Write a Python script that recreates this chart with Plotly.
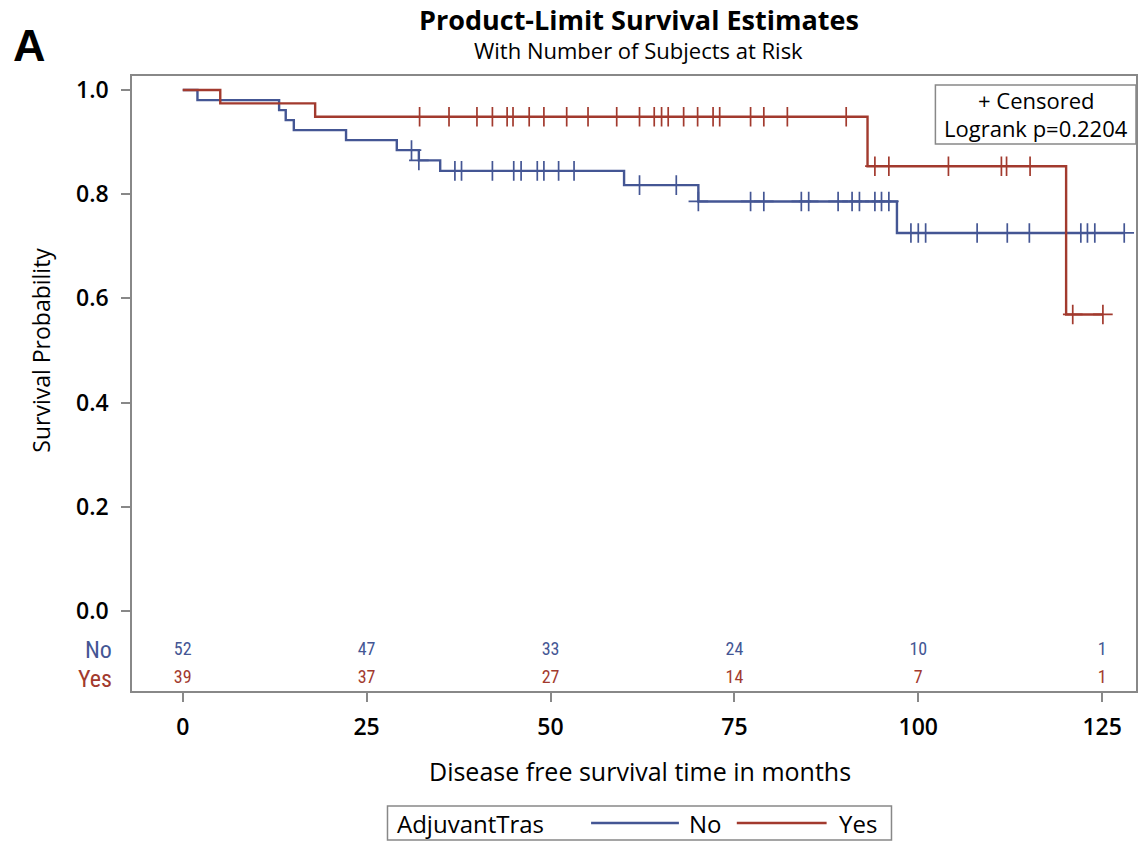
import plotly.graph_objects as go

# ---------------- data ----------------
groups = ["No", "Yes"]
colors = {"No": "#445694", "Yes": "#A23A2E"}

event_times_no = [2.0, 13.1, 14.0, 15.1, 22.2, 29.1, 32.1, 35.0, 60.0, 70.1, 97.1]
censor_times_no = [31.1, 32.1, 37.0, 37.9, 42.1, 45.0, 45.0, 46.0, 48.2, 48.2, 49.1,
                   51.1, 53.2, 62.1, 62.1, 67.1, 67.1, 70.1, 77.2, 79.0, 84.1, 85.1,
                   85.1, 89.1, 91.0, 92.0, 94.1, 95.0, 96.0, 99.0, 99.0, 100.0, 101.0,
                   108.0, 112.1, 115.1, 122.1, 123.0, 123.0, 124.0, 128.0]

event_times_yes = [5.1, 18.0, 93.1, 120.1]
censor_times_yes = [32.2, 36.2, 40.0, 40.0, 42.1, 44.1, 44.9, 47.1, 49.1, 49.1, 52.2,
                    55.1, 59.0, 62.1, 62.1, 64.1, 65.1, 66.0, 68.1, 70.0, 70.0, 72.1,
                    73.0, 77.2, 79.0, 82.2, 90.2, 94.1, 96.0, 104.1, 111.3, 112.0,
                    115.2, 121.0, 125.1]

risk_times = [0, 25, 50, 75, 100, 125]
risk_no = [52, 47, 33, 24, 10, 1]
risk_yes = [39, 37, 27, 14, 7, 1]

x_ticks = [0, 25, 50, 75, 100, 125]
y_ticks = [0.0, 0.2, 0.4, 0.6, 0.8, 1.0]

title_text = "Product-Limit Survival Estimates"
subtitle_text = "With Number of Subjects at Risk"
logrank_text = "Logrank p=0.2204"


def kaplan_meier(events, censors):
    times = sorted(set(events) | set(censors))
    all_t = events + censors
    s = 1.0
    xs, ys = [0.0], [1.0]
    cx, cy = [], []
    for t in times:
        d = events.count(t)
        n = sum(1 for v in all_t if v >= t)
        if d > 0:
            s *= (1 - d / n)
            xs.append(t)
            ys.append(s)
        if t in censors:
            cx.append(t)
            cy.append(s)
    xs.append(max(all_t))
    ys.append(s)
    return xs, ys, cx, cy


FONT = "Open Sans, Liberation Sans, Arial"
NARROW = "Liberation Sans Narrow, Roboto Condensed, Liberation Sans, Arial"

fig = go.Figure()
data = {"No": (event_times_no, censor_times_no), "Yes": (event_times_yes, censor_times_yes)}
for g in groups:
    ev, ce = data[g]
    xs, ys, cx, cy = kaplan_meier(ev, ce)
    fig.add_trace(go.Scatter(x=xs, y=ys, mode="lines", line=dict(color=colors[g], width=2.4, shape="hv"),
                             name=g, showlegend=False, hoverinfo="skip"))
    fig.add_trace(go.Scatter(x=cx, y=cy, mode="markers",
                             marker=dict(symbol="cross-thin", size=14, line=dict(color=colors[g], width=1.7)),
                             name=g + " censored", showlegend=False, hoverinfo="skip"))

# numbers at risk (inside the frame, under the curves)
Y_NO, Y_YES = -0.075, -0.1305
fig.add_trace(go.Scatter(x=risk_times, y=[Y_NO] * len(risk_times), mode="text",
                         text=[str(v) for v in risk_no], textposition="middle center",
                         textfont=dict(family=NARROW, size=18, color=colors["No"]),
                         showlegend=False, hoverinfo="skip"))
fig.add_trace(go.Scatter(x=risk_times, y=[Y_YES] * len(risk_times), mode="text",
                         text=[str(v) for v in risk_yes], textposition="middle center",
                         textfont=dict(family=NARROW, size=18, color=colors["Yes"]),
                         showlegend=False, hoverinfo="skip"))

W, H = 1143, 841
L, R, T, B = 132, 5, 76, 150
pw, ph = W - L - R, H - T - B


def px(xp):
    return (xp - L) / pw


def py(yp):
    return (H - B - yp) / ph


annotations = []
for g, yv in (("No", Y_NO), ("Yes", Y_YES)):
    annotations.append(dict(x=px(114), y=yv, xref="paper", yref="y", text=g, showarrow=False,
                            xanchor="right", yanchor="middle",
                            font=dict(family=NARROW, size=24, color=colors[g])))

annotations += [
    dict(x=px(640), y=py(20), xref="paper", yref="paper", text="<b>" + title_text + "</b>", showarrow=False,
         xanchor="center", yanchor="middle", font=dict(family=FONT, size=27, color="black")),
    dict(x=px(640), y=py(50), xref="paper", yref="paper", text=subtitle_text, showarrow=False,
         xanchor="center", yanchor="middle", font=dict(family=FONT, size=22, color="black")),
    dict(x=px(29), y=py(46), xref="paper", yref="paper", text="<b>A</b>", showarrow=False,
         xanchor="center", yanchor="middle", font=dict(family="Liberation Sans, Arial", size=45, color="black")),
    dict(x=px(40), y=0.5, xref="paper", yref="y", text="Survival Probability", showarrow=False,
         textangle=-90, xanchor="center", yanchor="middle", font=dict(family=FONT, size=23, color="black")),
    dict(x=px(641), y=py(771), xref="paper", yref="paper", text="Disease free survival time in months",
         showarrow=False, xanchor="center", yanchor="middle", font=dict(family=FONT, size=25, color="black")),
    # inset box text
    dict(x=px(1038), y=py(100), xref="paper", yref="paper", text="+ Censored", showarrow=False,
         xanchor="center", yanchor="middle", font=dict(family=FONT, size=22, color="black")),
    dict(x=px(1038), y=py(128), xref="paper", yref="paper", text=logrank_text, showarrow=False,
         xanchor="center", yanchor="middle", font=dict(family=FONT, size=22, color="black")),
    # legend text
    dict(x=px(396), y=py(823), xref="paper", yref="paper", text="AdjuvantTras", showarrow=False,
         xanchor="left", yanchor="middle", font=dict(family=FONT, size=24, color="black")),
    dict(x=px(688), y=py(823), xref="paper", yref="paper", text="No", showarrow=False,
         xanchor="left", yanchor="middle", font=dict(family=FONT, size=24, color="black")),
    dict(x=px(838), y=py(823), xref="paper", yref="paper", text="Yes", showarrow=False,
         xanchor="left", yanchor="middle", font=dict(family=FONT, size=24, color="black")),
]

shapes = [
    # inset box
    dict(type="rect", xref="paper", yref="paper", x0=px(937), x1=px(1138), y0=py(85), y1=py(144),
         line=dict(color="#888888", width=1.5), fillcolor="white", layer="below"),
    # legend box
    dict(type="rect", xref="paper", yref="paper", x0=px(388), x1=px(893), y0=py(806), y1=py(840),
         line=dict(color="#888888", width=1.5)),
    dict(type="line", xref="paper", yref="paper", x0=px(592), x1=px(680), y0=py(823), y1=py(823),
         line=dict(color=colors["No"], width=2.4)),
    dict(type="line", xref="paper", yref="paper", x0=px(738), x1=px(828), y0=py(823), y1=py(823),
         line=dict(color=colors["Yes"], width=2.4)),
]

fig.update_layout(
    width=W, height=H,
    margin=dict(l=L, r=R, t=T, b=B),
    paper_bgcolor="white", plot_bgcolor="white",
    annotations=annotations, shapes=shapes,
    showlegend=False,
    xaxis=dict(range=[-6.9, 129.6], tickvals=x_ticks, ticktext=[str(v) for v in x_ticks],
               showgrid=False, zeroline=False, showline=True, linecolor="#888888", linewidth=1.5,
               mirror=True, ticks="outside", ticklen=9, tickwidth=1.5, tickcolor="#888888",
               ticklabelstandoff=6,
               tickfont=dict(family=FONT, size=23, color="black", weight=600)),
    yaxis=dict(range=[-0.1536, 1.027], tickvals=y_ticks, ticktext=["%.1f" % v for v in y_ticks],
               showgrid=False, zeroline=False, showline=True, linecolor="#888888", linewidth=1.5,
               mirror=True, ticks="outside", ticklen=9, tickwidth=1.5, tickcolor="#888888",
               ticklabelstandoff=8,
               tickfont=dict(family=FONT, size=23, color="black", weight=600)),
)

fig.write_html("out.html", post_script="document.body.style.margin='0';",
               config={"displayModeBar": False})
